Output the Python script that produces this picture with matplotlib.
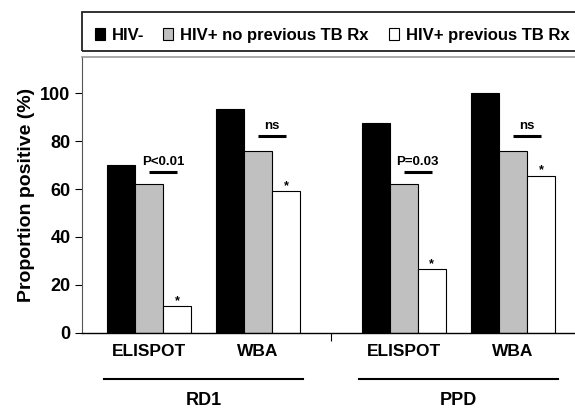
import matplotlib.pyplot as plt
from matplotlib.patches import Rectangle
from matplotlib.transforms import blended_transform_factory

plt.rcParams['font.family'] = ['Liberation Sans', 'DejaVu Sans']
plt.rcParams['font.weight'] = 'bold'
plt.rcParams['axes.labelweight'] = 'bold'

# data
groups = ['RD1', 'PPD']
assays = ['ELISPOT', 'WBA', 'ELISPOT', 'WBA']
series = ['HIV-', 'HIV+ no previous TB Rx', 'HIV+ previous TB Rx']
hiv_neg = [70, 93.5, 87.5, 100]
hiv_pos_no_tb = [62, 76, 62, 76]
hiv_pos_prev_tb = [11, 59, 26.5, 65.5]
ann_labels = ['P<0.01', 'ns', 'P=0.03', 'ns']
ann_line_y = [67, 82, 67, 82]

colors = ['black', '#c0c0c0', 'white']
pos = [0, 1, 2.333, 3.333]
bw = 0.257

fig = plt.figure(figsize=(5.75, 4.09), dpi=100)
ax = fig.add_axes([0.1421, 0.1866, 0.8765, 0.6748])

values = [hiv_neg, hiv_pos_no_tb, hiv_pos_prev_tb]
for k, vals in enumerate(values):
    ax.bar([p + (k - 1) * bw for p in pos], vals, width=bw, color=colors[k],
           edgecolor='black', linewidth=0.8, zorder=2)

# significance lines and labels
for i, p in enumerate(pos):
    ax.plot([p, p + bw], [ann_line_y[i], ann_line_y[i]], color='black', lw=2.2,
            solid_capstyle='butt')
    ax.text(p + bw / 2, ann_line_y[i] + 3, ann_labels[i], ha='center',
            va='baseline', fontsize=9.5)
    ax.text(p + bw, hiv_pos_prev_tb[i] + 1.0, '*', ha='center', va='baseline',
            fontsize=9)

ax.set_xlim(-0.615, 4.0)
ax.set_ylim(0, 115.3)
ax.set_yticks([0, 20, 40, 60, 80, 100])
ax.tick_params(axis='y', labelsize=13, length=5, width=0.8, pad=3)
ax.set_xticks(pos, assays)
ax.tick_params(axis='x', labelsize=12.5, length=0, pad=8)
ax.set_xticks([(pos[1] + pos[2]) / 2], minor=True)
ax.tick_params(axis='x', which='minor', length=6, width=0.8)
ax.set_ylabel('Proportion positive (%)', fontsize=14, fontweight='bold',
              labelpad=4)

ax.spines['left'].set_color('#555555')
ax.spines['left'].set_linewidth(0.8)
ax.spines['bottom'].set_linewidth(1.0)
ax.spines['top'].set_color('#999999')
ax.spines['top'].set_linewidth(1.2)
ax.spines['right'].set_visible(False)

# group brackets under the axis
trans = blended_transform_factory(ax.transData, ax.transAxes)
for g, name in enumerate(groups):
    mid = (pos[2 * g] + pos[2 * g + 1]) / 2
    ax.plot([mid - 0.91, mid + 0.91], [-0.168, -0.168], color='black', lw=1.5,
            transform=trans, clip_on=False)
    ax.text(mid, -0.247, name, ha='center', va='center', fontsize=13,
            transform=trans)

# legend box on top
W, H = 575.0, 409.0
fig.patches.append(Rectangle((82.3 / W, 1 - 50.7 / H), 0.9, 39 / H, fill=False,
                             edgecolor='#222222', lw=1.3,
                             transform=fig.transFigure))
sq_x = [95, 163, 389]
for k, name in enumerate(series):
    fig.patches.append(Rectangle((sq_x[k] / W, 1 - 40 / H), 10 / W, 12.5 / H,
                                 facecolor=colors[k], edgecolor='black', lw=0.8,
                                 transform=fig.transFigure))
    fig.text((sq_x[k] + 17) / W, 1 - 40 / H, name, ha='left', va='baseline',
             fontsize=12)

fig.savefig('out.png', dpi=100)
